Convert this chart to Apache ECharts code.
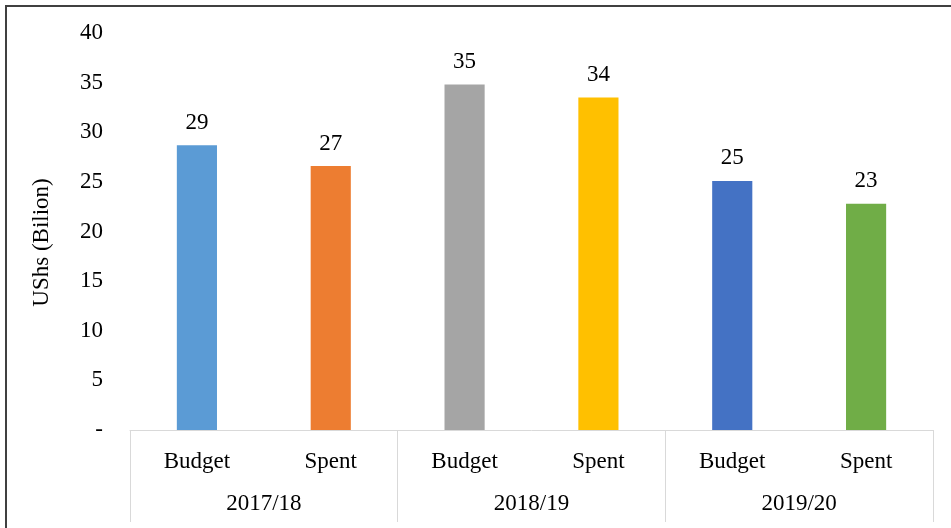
<!DOCTYPE html>
<html>
<head>
<meta charset="utf-8">
<script src="https://cdn.jsdelivr.net/npm/echarts@6/dist/echarts.min.js"></script>
<style>html,body{margin:0;padding:0;background:#fff}#c{width:951px;height:528px}</style>
</head>
<body>
<div id="c"></div>
<script>
var items = ['Budget', 'Spent', 'Budget', 'Spent', 'Budget', 'Spent'];
var years = ['2017/18', '2018/19', '2019/20'];
var values = [28.7, 26.6, 34.8, 33.5, 25.1, 22.8];
var colors = ['#5B9BD5', '#ED7D31', '#A5A5A5', '#FFC000', '#4472C4', '#70AD47'];
var yTicks = ['-', '5', '10', '15', '20', '25', '30', '35', '40'];

var font = 'Liberation Serif';
var fs = 23;
var chart = echarts.init(document.getElementById('c'));
chart.setOption({
  animation: false,
  textStyle: { fontFamily: font },
  graphic: [{
    type: 'rect',
    shape: { x: 6, y: 6, width: 980, height: 560 },
    style: { fill: 'none', stroke: '#404040', lineWidth: 2 },
    silent: true
  }],
  grid: { left: 130, right: 18, top: 33, bottom: 98 },
  xAxis: [{
    type: 'category',
    data: items,
    position: 'bottom',
    axisLine: { show: false },
    axisTick: { show: false },
    axisLabel: { color: '#000', fontSize: fs, fontFamily: font, margin: 20, interval: 0 }
  }, {
    type: 'category',
    data: years,
    position: 'bottom',
    axisLine: { show: true, lineStyle: { color: '#d9d9d9', width: 1 } },
    axisTick: { show: true, length: 92, interval: 0, lineStyle: { color: '#d9d9d9', width: 1 } },
    axisLabel: { color: '#000', fontSize: fs, fontFamily: font, margin: 62, interval: 0 }
  }],
  yAxis: {
    type: 'value',
    min: 0, max: 40, interval: 5,
    name: 'UShs (Bilion)',
    nameLocation: 'middle',
    nameGap: 77,
    nameTextStyle: { color: '#000', fontSize: fs, fontFamily: font, padding: [0, 22, 0, 0] },
    axisLine: { show: false },
    axisTick: { show: false },
    splitLine: { show: false },
    axisLabel: {
      color: '#000', fontSize: fs, fontFamily: font, margin: 27,
      formatter: function (v) { return yTicks[Math.round(v / 5)]; }
    }
  },
  series: [{
    type: 'bar',
    xAxisIndex: 0,
    barWidth: '30%',
    data: values.map(function (v, i) { return { value: v, itemStyle: { color: colors[i] } }; }),
    label: {
      show: true, position: 'top', distance: 11,
      color: '#000', fontSize: fs, fontFamily: font,
      formatter: function (p) { return Math.round(p.value); }
    }
  }]
});
</script>
</body>
</html>
